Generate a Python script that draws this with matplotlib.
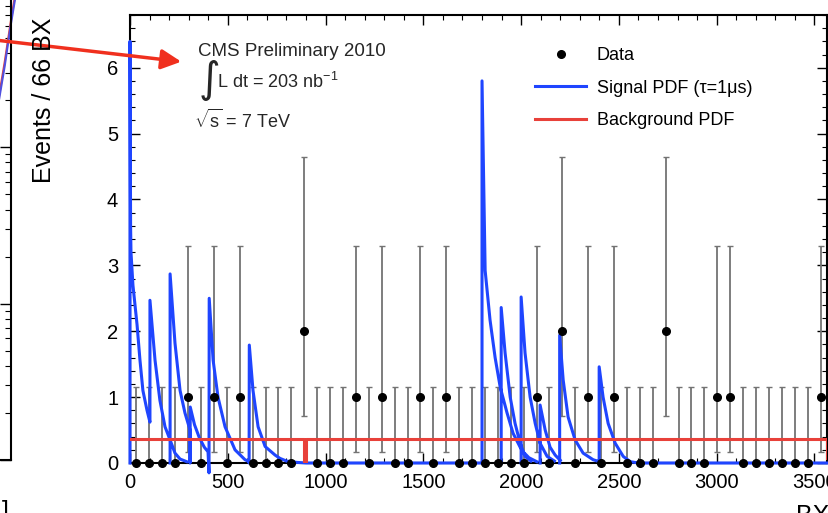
import numpy as np
import matplotlib
matplotlib.use("Agg")
import matplotlib.pyplot as plt
from matplotlib.ticker import MultipleLocator, LogLocator, NullFormatter

plt.rcParams['font.family'] = ['Liberation Sans', 'DejaVu Sans']
plt.rcParams['mathtext.fontset'] = 'custom'
plt.rcParams['mathtext.rm'] = 'Liberation Sans'
plt.rcParams['mathtext.it'] = 'Liberation Sans:italic'

# ---- data ----
bin_width = 66
n_bins = 54
counts = [0, 0, 0, 0, 1, 0, 1, 0, 1, 0, 0, 0, 0, 2, 0, 0, 0, 1, 0, 1, 0, 0, 1, 0, 1, 0, 0,
          0, 0, 0, 0, 1, 0, 2, 0, 1, 0, 1, 0, 0, 0, 2, 0, 0, 0, 1, 1, 0, 0, 0, 0, 0, 0, 1]
# poisson interval ends for 0, 1, 2 events
err_low_end = [0.0, 0.17, 0.71]
err_high_end = [1.15, 3.30, 4.64]

# signal PDF (tau = 1 us), strokes separated by None
sig_bx = [0, 0, 3, 5, 15, 36, 51, 66, 87, 102, 102, 128, 153, 179, 205, 230, 256, 290, None,
          205, 205, 230, 256, 281, 307, 307, 308, 330, 355, 380, 399, 404, 405, 425, 450, 486,
          537, 588, 609, 609, 610, 629, 655, 691, 742, 767, 800, 850, 900, 1800, 1800, 1816,
          1841, 1867, 1893, 1928, 1959, 1995, 2010, 2040, 2080, None,
          1898, 1898, 1918, 1944, 1969, 1995, 2020, 2050, None,
          2000, 2000, 2020, 2046, 2072, 2097, 2133, 2170, None,
          2097, 2097, 2123, 2148, 2174, 2200, None,
          2197, 2197, 2215, 2240, 2276, 2317, 2368, 2400, None,
          2399, 2399, 2419, 2445, 2481, 2522, 2558, 2600, 3564]
sig_val = [0, 6.4, 3.6, 3.2, 2.7, 2.1, 1.56, 1.1, 0.8, 0.62, 2.47, 1.56, 0.95, 0.55, 0.35, 0.15, 0.06, 0.02, None,
           0, 2.87, 1.82, 1.1, 0.76, 0.5, 0, 0.85, 0.58, 0.38, 0.24, 0.17, -0.15, 2.5, 1.56, 1.0, 0.55,
           0.2, 0.05, 0.02, 0, 1.79, 1.1, 0.55, 0.25, 0.12, 0.07, 0.03, 0.01, 0, 0, 5.8, 2.92,
           2.17, 1.6, 1.15, 0.76, 0.45, 0.24, 0.17, 0.08, 0.02, None,
           0, 2.36, 1.67, 1.0, 0.6, 0.3, 0.1, 0.03, None,
           0, 2.52, 1.67, 1.0, 0.6, 0.3, 0.1, 0.03, None,
           0, 0.88, 0.5, 0.24, 0.12, 0.04, None,
           0, 1.94, 1.26, 0.7, 0.35, 0.15, 0.05, 0.02, None,
           0, 1.46, 1.0, 0.6, 0.3, 0.1, 0.02, 0, 0]

# background PDF
bkg_bx = [0, 890, 890, 899, 899, 3562, 3562]
bkg_val = [0.37, 0.37, 0, 0, 0.37, 0.37, 0.08]

x_max = 3564

# edge of the neighbouring (cropped) panel on the left
left_x = [0.94, 0.97, 1.0, 1.02]
left_blue = [190, 330, 620, 900]
left_red = [200, 350, 650, 950]

# ---- plot ----
fig = plt.figure(figsize=(8.29, 5.13), dpi=100)

# cropped neighbour panel: only its right edge is visible
axl = fig.add_axes([-200 / 829, 53 / 513, 211 / 829, 469 / 513])
axl.set_yscale('log')
axl.set_ylim(1, 1000)
axl.set_xlim(0, 1)
axl.plot(left_x, left_red, color='#e8413a', lw=1.5, clip_on=False)
axl.plot(left_x, left_blue, color='#5050e0', lw=1.5, clip_on=False)
axl.yaxis.set_major_locator(LogLocator(base=10))
axl.yaxis.set_minor_locator(LogLocator(base=10, subs=np.arange(2, 10)))
axl.yaxis.set_minor_formatter(NullFormatter())
axl.tick_params(which='both', direction='in', left=False, right=True,
                labelleft=False, labelbottom=False, bottom=False)
axl.tick_params(which='major', length=8, width=1)
axl.tick_params(which='minor', length=4, width=0.8)
axl.spines['top'].set_visible(False)
axl.spines['left'].set_visible(False)
for s in ('right', 'bottom'):
    axl.spines[s].set_linewidth(1.5)

ax = fig.add_axes([130 / 829, 50 / 513, 697 / 829, 448 / 513])

centers = bin_width / 2 + bin_width * np.arange(n_bins)
counts = np.array(counts)
lo = counts - np.array(err_low_end)[counts]
hi = np.array(err_high_end)[counts] - counts

ax.errorbar(centers, counts, yerr=[lo, hi], fmt='none', ecolor='0.45', elinewidth=1.3,
            capsize=2, capthick=1.0, zorder=2)

sx = np.array([np.nan if v is None else v for v in sig_bx], dtype=float)
sy = np.array([np.nan if v is None else v for v in sig_val], dtype=float)
ax.plot(sx, sy, color='#1f45ff', lw=2.2, zorder=3, label='Signal PDF (\u03c4=1\u03bcs)', clip_on=False)
ax.plot(bkg_bx, bkg_val, color='#e8413a', lw=2.2, zorder=3, label='Background PDF')
ax.plot(centers, counts, 'o', color='black', ms=5.5, zorder=5, label='Data', clip_on=False)

ax.set_xlim(0, x_max)
ax.set_ylim(0, 6.8)
ax.xaxis.set_major_locator(MultipleLocator(500))
ax.xaxis.set_minor_locator(MultipleLocator(100))
ax.yaxis.set_major_locator(MultipleLocator(1))
ax.yaxis.set_minor_locator(MultipleLocator(0.2))
ax.tick_params(which='both', direction='in', top=True, right=True, labelsize=14.5)
ax.tick_params(which='major', length=7, width=1)
ax.tick_params(which='minor', length=3.5, width=0.8)
ax.tick_params(axis='x', pad=7)
ax.tick_params(axis='y', pad=8.5)
for s in ax.spines.values():
    s.set_linewidth(1.5)

# legend
h, l = ax.get_legend_handles_labels()
order = [2, 0, 1]
ax.legend([h[i] for i in order], [l[i] for i in order], loc='upper left',
          bbox_to_anchor=(519 / 829, 1 - 31 / 513), bbox_transform=fig.transFigure,
          frameon=False, fontsize=13, handlelength=2.8, handletextpad=0.6,
          labelspacing=0.85, borderpad=0.4)

# text block
fig.text(198 / 829, 1 - 52 / 513, 'CMS Preliminary 2010', fontsize=13.5, va='center', color='0.15')
fig.text(199 / 829, 1 - 80 / 513, '\u222b', fontsize=30, family='DejaVu Sans', va='center', color='0.15')
fig.text(217 / 829, 1 - 82 / 513, r'L dt = 203 nb$^{-1}$', fontsize=13, va='center', color='0.15')
fig.text(194 / 829, 1 - 120 / 513, r'$\sqrt{\mathrm{s}}$ = 7 TeV', fontsize=13, va='center', color='0.15')

# axis titles
fig.text(44 / 829, 1 - 100 / 513, 'Events / 66 BX', fontsize=18, rotation=90, ha='center', va='center')
fig.text(796 / 829, 1 - 504 / 513, 'BX', fontsize=18, va='top')
fig.text(2 / 829, 1 - 500 / 513, ']', fontsize=18, va='top')

# arrow pointing into the plot
ax.annotate('', xy=(184, 513 - 62), xytext=(-5, 513 - 40), xycoords='figure pixels',
            textcoords='figure pixels', annotation_clip=False,
            arrowprops=dict(arrowstyle='-|>', color='#f0301e', lw=2.5, mutation_scale=30))

fig.savefig('out.png', dpi=100)
